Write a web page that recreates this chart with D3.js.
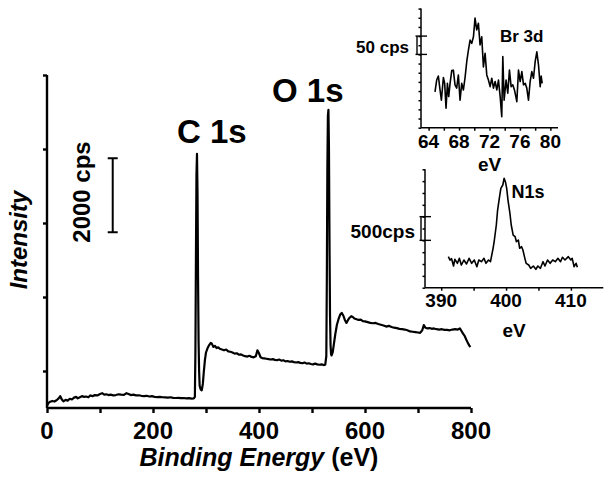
<!DOCTYPE html>
<html><head><meta charset="utf-8">
<script src="https://cdn.jsdelivr.net/npm/d3@7"></script>
<style>
html,body{margin:0;padding:0;background:#fff;}
svg{display:block;}
text{font-family:"Liberation Sans",Arial,Helvetica,sans-serif;font-weight:bold;fill:#000;}
</style></head>
<body>
<svg id="chart" width="612" height="482"></svg>
<script>
// ---------- DATA ----------
// Survey spectrum: binding energy (eV)
const surveyEnergy = [0,3,6,10,14,18,22,25,28,31,35,39,43,47,51,55,58,62,66,70,74,78,82,86,90,95,100,104,108,112,116,120,125,130,135,140,145,150,154,158,163,168,173,178,183,188,193,198,203,208,213,218,223,228,233,238,243,248,253,258,263,268,273,277,279,280,281,282,283,284,285,286,287,288,290,292,294,296,298,300,303,306,309,311,314,317,320,323,326,330,334,338,342,346,350,354,358,362,366,370,374,378,382,386,390,394,397,400,403,406,410,414,418,422,426,430,434,438,442,446,450,454,458,462,466,470,474,478,482,486,490,494,498,502,506,510,514,518,522,525,527,528,529,530,531,532,533,534,535,536,537,539,541,544,547,550,553,556,559,562,565,568,571,574,577,580,584,588,592,596,600,605,610,615,620,625,630,635,640,645,650,655,660,665,670,675,680,685,690,695,700,704,708,711,714,718,722,726,730,735,740,745,750,755,760,765,770,775,779,782,785,788,791,794,797,799];
// Survey spectrum: intensity (cps)
const surveyCps = [60,140,170,190,175,210,260,320,230,180,220,200,250,230,280,300,260,290,320,300,310,290,340,320,350,340,380,400,360,370,350,360,340,350,370,360,355,400,380,350,360,340,345,330,320,330,310,320,300,295,300,290,285,280,290,275,270,275,265,270,260,265,255,260,300,1500,4000,6300,6870,5800,3500,1800,1000,600,500,480,650,1000,1300,1500,1620,1700,1760,1740,1650,1680,1620,1640,1600,1580,1560,1580,1530,1520,1500,1470,1480,1440,1450,1420,1400,1390,1410,1380,1370,1400,1560,1480,1370,1350,1340,1330,1320,1310,1320,1300,1290,1310,1280,1290,1260,1270,1250,1260,1240,1230,1240,1220,1210,1230,1200,1210,1190,1180,1200,1180,1170,1180,1160,1170,1400,3500,6500,7900,8060,7000,4500,2500,1700,1450,1420,1500,1700,2000,2250,2400,2520,2570,2500,2380,2300,2380,2440,2480,2460,2420,2400,2380,2390,2350,2340,2320,2300,2290,2300,2270,2250,2230,2200,2220,2190,2170,2160,2140,2130,2120,2100,2070,2060,2050,2040,2030,2100,2240,2170,2150,2160,2140,2150,2130,2120,2130,2110,2110,2100,2120,2130,2120,2150,2080,2010,1950,1850,1760,1680,1650];
const surveyXTicks = [0,100,200,300,400,500,600,700,800];
const surveyXLabels = [0,200,400,600,800];
const surveyYTicks = [1000,3000,5000,7000,9000];
const peakLabels = ["C 1s","O 1s"];

// Br 3d inset
const brEnergy = [64.84,65.06,65.28,65.50,65.68,65.94,66.11,66.29,66.47,66.64,66.82,67.04,67.25,67.47,67.69,67.91,68.13,68.35,68.57,68.79,69.01,69.23,69.45,69.67,69.89,70.10,70.32,70.54,70.76,70.98,71.20,71.42,71.64,71.86,72.08,72.30,72.52,72.74,72.96,73.18,73.40,73.61,73.75,73.92,74.18,74.40,74.62,74.84,75.06,75.28,75.59,75.81,76.03,76.25,76.47,76.69,76.90,77.12,77.34,77.56,77.78,78.00,78.22,78.44,78.66,78.79,78.92];
const brCps = [98,130,141,103,75,137,121,53,121,85,121,156,157,117,108,144,75,121,103,137,180,212,239,230,248,299,267,285,226,248,166,203,144,130,112,135,108,126,103,130,85,30,194,75,130,94,157,112,117,103,71,157,126,153,117,121,108,75,126,153,135,180,207,171,112,141,121];
const brXLabels = [64,68,72,76,80];
const brXTicks = [64,66,68,70,72,74,76,78,80];

// N 1s inset
const nEnergy = [391.1,391.36,391.6,391.9,392.1,392.5,392.8,393.1,393.5,393.9,394.3,394.7,395.1,395.5,395.8,396.2,396.6,396.9,397.3,397.6,398.0,398.2,398.5,398.7,399.0,399.2,399.5,399.7,399.9,400.1,400.3,400.6,400.8,401.1,401.4,401.6,401.9,402.1,402.4,402.6,402.9,403.1,403.5,403.8,404.2,404.6,404.9,405.3,405.7,406.0,406.4,406.8,407.2,407.6,408.0,408.4,408.7,409.1,409.6,410.0,410.2,410.5,410.8,411.0];
const nCps = [655,583,612,458,600,515,620,479,585,500,620,515,585,443,585,549,620,515,585,549,832,1007,1324,1640,1921,2098,2168,2309,2238,2098,1851,1570,1324,1112,1077,971,1007,832,866,796,620,515,479,409,458,388,458,409,549,458,585,515,585,549,620,549,642,585,655,585,620,443,515,430];
const nXLabels = [390,400,410];
const nXTicks = [390,395,400,405,410];

// ---------- DRAW ----------
const svg = d3.select("#chart");

// Main survey
const x = d3.scaleLinear().domain([0,800]).range([47,471]);
const y = d3.scaleLinear().domain([0,9000]).range([408,75]);

const main = svg.append("g");
main.append("path")
  .attr("d", d3.line().x((d,i)=>x(surveyEnergy[i])).y(d=>y(d))(surveyCps))
  .attr("fill","none").attr("stroke","#000").attr("stroke-width",2.2).attr("stroke-linejoin","round");

const xAx = main.append("g").attr("transform",`translate(0,${y(0)})`)
  .call(d3.axisBottom(x).tickValues(surveyXTicks).tickSize(5).tickSizeOuter(0).tickFormat(""));
const yAx = main.append("g").attr("transform",`translate(${x(0)},0)`)
  .call(d3.axisLeft(y).tickValues(surveyYTicks).tickSize(4).tickSizeOuter(0).tickFormat(""));
[xAx,yAx].forEach(a=>{a.selectAll("path,line").attr("stroke","#000").attr("stroke-width",2.4);});
xAx.select("path.domain").attr("d",`M${x(0)},0H${x(800)}`);
yAx.select("path.domain").attr("d",`M0,${y(0)}V${y(9000)}`);

main.selectAll("text.xl").data(surveyXLabels).enter().append("text")
  .attr("x",d=>x(d)).attr("y",439).attr("text-anchor","middle").attr("font-size",24).text(d=>d);

main.append("text").attr("x",259).attr("y",466).attr("text-anchor","middle").attr("font-size",25)
  .call(t=>{t.append("tspan").attr("font-style","italic").text("Binding Energy ");t.append("tspan").text("(eV)");});
main.append("text").attr("transform","translate(27,240) rotate(-90)").attr("text-anchor","middle")
  .attr("font-size",24).attr("font-style","italic").text("Intensity");

// peak labels
main.append("text").attr("x",177).attr("y",143).attr("font-size",33).text(peakLabels[0]);
main.append("text").attr("x",272).attr("y",102).attr("font-size",33).text(peakLabels[1]);

// 2000 cps scale bar
const sbX = x(124), sbLo = y(4750), sbHi = y(6750);
const sb = main.append("g").attr("stroke","#000").attr("stroke-width",2);
sb.append("line").attr("x1",sbX).attr("x2",sbX).attr("y1",sbLo).attr("y2",sbHi);
sb.append("line").attr("x1",sbX-5).attr("x2",sbX+5).attr("y1",sbLo).attr("y2",sbLo);
sb.append("line").attr("x1",sbX-5).attr("x2",sbX+5).attr("y1",sbHi).attr("y2",sbHi);
main.append("text").attr("transform",`translate(90,192) rotate(-90)`).attr("text-anchor","middle")
  .attr("font-size",24).text("2000 cps");

// inset helper
function inset(opts){
  const g = svg.append("g");
  const xs = d3.scaleLinear().domain(opts.xd).range(opts.xr);
  const ys = d3.scaleLinear().domain(opts.yd).range(opts.yr);
  g.append("path")
    .attr("d", d3.line().x((d,i)=>xs(opts.xv[i])).y(d=>ys(d))(opts.yv))
    .attr("fill","none").attr("stroke","#000").attr("stroke-width",1.6).attr("stroke-linejoin","round");
  const xa = g.append("g").attr("transform",`translate(0,${opts.yr[0]})`)
    .call(d3.axisBottom(xs).tickValues(opts.xt).tickSize(3).tickSizeOuter(0).tickFormat(""));
  const ya = g.append("g").attr("transform",`translate(${opts.xr[0]},0)`)
    .call(d3.axisLeft(ys).tickValues(d3.range(opts.yd[0],opts.yd[1]+0.001,opts.ystep)).tickSize(2.5).tickSizeOuter(0).tickFormat(""));
  [xa,ya].forEach(a=>{a.selectAll("path,line").attr("stroke","#000").attr("stroke-width",1.5);});
  xa.select("path.domain").attr("d",`M${opts.xr[0]},0H${opts.xr[1]}`);
  ya.select("path.domain").attr("d",`M0,${opts.yr[0]}V${opts.yr[1]}`);
  g.selectAll("text.tl").data(opts.xl).enter().append("text")
    .attr("x",d=>xs(d)).attr("y",opts.labelY).attr("text-anchor","middle").attr("font-size",19).text(d=>d);
  // scale bar bracket with inner major ticks
  const bx = opts.xr[0]-4;
  const br = g.append("g").attr("stroke","#000").attr("stroke-width",1.4);
  br.append("line").attr("x1",bx).attr("x2",bx).attr("y1",ys(opts.bar[0])).attr("y2",ys(opts.bar[1]));
  opts.bar.forEach(v=>br.append("line").attr("x1",bx-1.5).attr("x2",opts.xr[0]+6).attr("y1",ys(v)).attr("y2",ys(v)));
  g.append("text").attr("x",opts.barText[0]).attr("y",opts.barText[1]).attr("text-anchor","end")
    .attr("font-size",opts.barText[3]).text(opts.barText[2]);
  g.append("text").attr("x",(opts.xr[0]+opts.xr[1])/2).attr("y",opts.evY).attr("text-anchor","middle")
    .attr("font-size",19).text("eV");
  g.append("text").attr("x",opts.name[0]).attr("y",opts.name[1]).attr("font-size",opts.name[3]).text(opts.name[2]);
  return g;
}

inset({xd:[63,81], xr:[421,558], yd:[0,325], yr:[127.7,8.6], ystep:25,
  xv:brEnergy, yv:brCps, xt:brXTicks, xl:brXLabels, labelY:147.5,
  bar:[200,250], barText:[409,53,"50 cps",17], evY:171, name:[500,42,"Br 3d",17]});

inset({xd:[387.5,415], xr:[425,603.3], yd:[0,2500], yr:[287.7,169.3], ystep:250,
  xv:nEnergy, yv:nCps, xt:nXTicks, xl:nXLabels, labelY:307,
  bar:[1000,1500], barText:[415,238,"500cps",19], evY:337, name:[511.5,198,"N1s",18]});
</script>
</body></html>
